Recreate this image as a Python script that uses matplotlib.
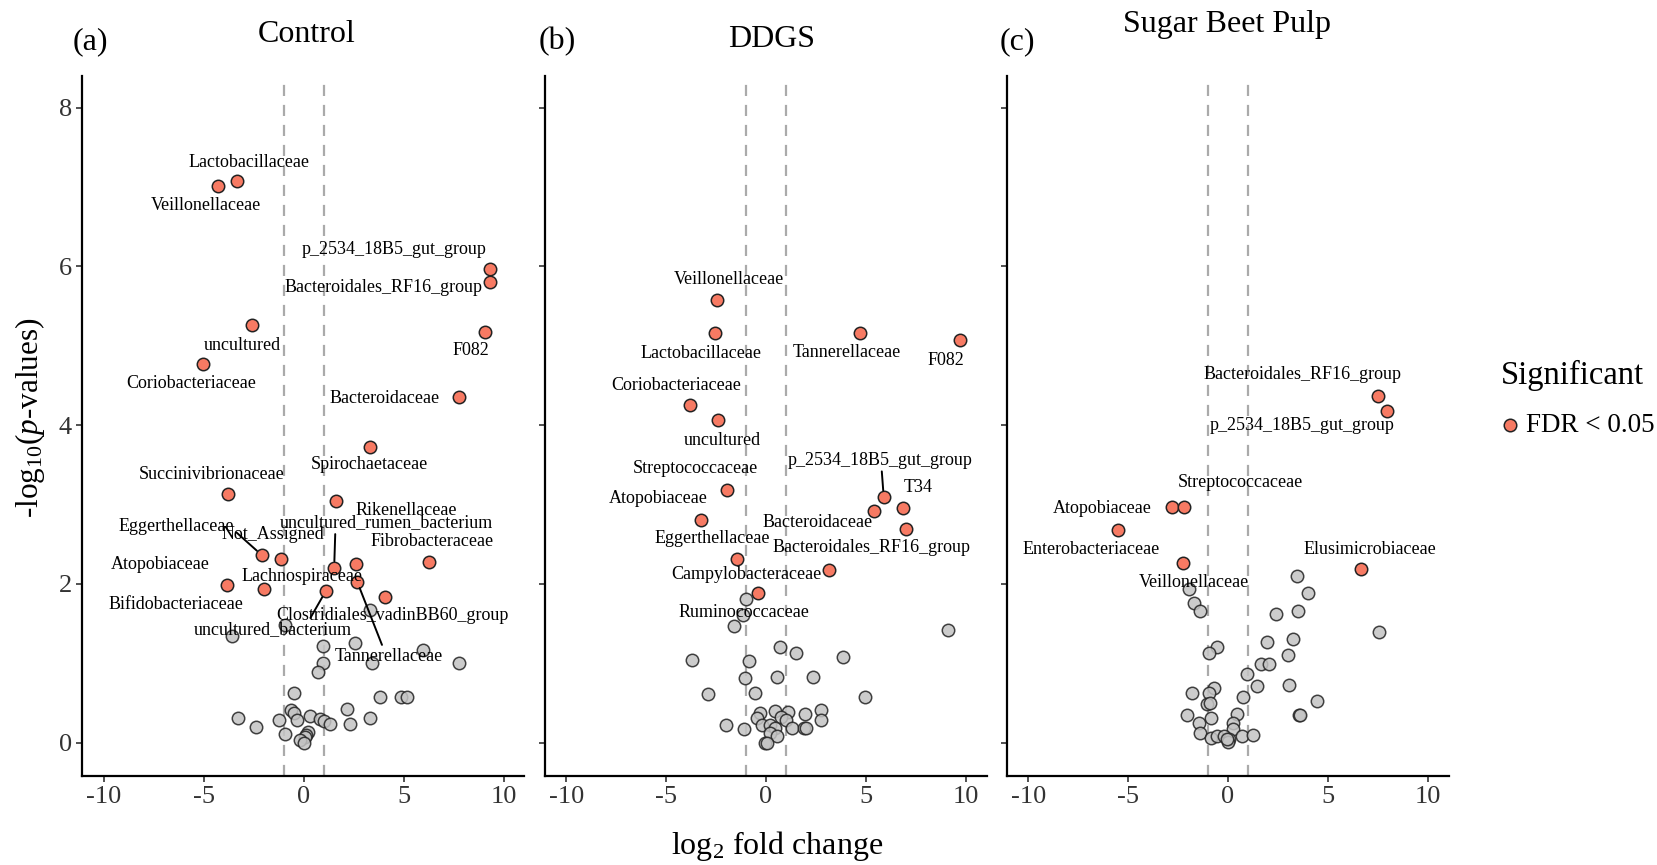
import matplotlib
matplotlib.use("Agg")
import matplotlib.pyplot as plt
from matplotlib.lines import Line2D

plt.rcParams['font.family'] = ['Liberation Serif', 'DejaVu Serif']
plt.rcParams['mathtext.fontset'] = 'custom'
plt.rcParams['mathtext.rm'] = 'Liberation Serif'
plt.rcParams['mathtext.it'] = 'Liberation Serif:italic'
plt.rcParams['axes.unicode_minus'] = False

panel_titles = ["Control", "DDGS", "Sugar Beet Pulp"]
panel_tags = ["(a)", "(b)", "(c)"]
x_ticks = [-10, -5, 0, 5, 10]
y_ticks = [0, 2, 4, 6, 8]

# Control: significant families (FDR < 0.05)
a_sig_names = ["Lactobacillaceae", "Veillonellaceae", "p_2534_18B5_gut_group",
               "Bacteroidales_RF16_group", "uncultured", "F082", "Coriobacteriaceae",
               "Bacteroidaceae", "Spirochaetaceae", "Succinivibrionaceae", "Rikenellaceae",
               "Eggerthellaceae", "Not_Assigned", "uncultured_rumen_bacterium",
               "Fibrobacteraceae", "Atopobiaceae", "Lachnospiraceae", "Bifidobacteriaceae",
               "Tannerellaceae", "uncultured_bacterium", "Clostridiales_vadinBB60_group"]
a_sig_x = [-3.35, -4.3, 9.3, 9.3, -2.57, 9.06, -5.03, 7.75, 3.3, -3.82, 1.62,
           -2.09, -1.15, 1.52, 6.28, -3.87, 2.62, -1.99, 2.67, 1.1, 4.08]
a_sig_y = [7.08, 7.02, 5.97, 5.81, 5.26, 5.18, 4.77, 4.36, 3.72, 3.13, 3.05,
           2.36, 2.32, 2.2, 2.28, 1.99, 2.25, 1.93, 2.03, 1.91, 1.83]
a_ns_x = [3.32, -0.95, -3.58, 0.95, 2.58, 5.95, 0.95, 0.7, 3.39, 7.75, -0.5, 3.84,
          4.87, 5.17, 2.15, -0.63, -0.47, -3.3, -1.22, -0.33, 0.32, 0.82, 1.03, 1.29,
          2.32, 3.32, -2.38, -0.92, 0.2, 0.12, 0.05, -0.2, 0.02]
a_ns_y = [1.67, 1.48, 1.34, 1.22, 1.25, 1.17, 1.0, 0.89, 1.0, 1.01, 0.63, 0.58,
          0.57, 0.57, 0.42, 0.41, 0.37, 0.31, 0.29, 0.28, 0.33, 0.30, 0.27, 0.24,
          0.23, 0.31, 0.2, 0.11, 0.14, 0.10, 0.07, 0.03, 0.0]

# DDGS
b_sig_names = ["Veillonellaceae", "Lactobacillaceae", "Tannerellaceae", "F082",
               "Coriobacteriaceae", "uncultured", "Streptococcaceae",
               "p_2534_18B5_gut_group", "T34", "Bacteroidaceae", "Atopobiaceae",
               "Bacteroidales_RF16_group", "Eggerthellaceae", "Campylobacteraceae",
               "Ruminococcaceae"]
b_sig_x = [-2.43, -2.55, 4.7, 9.7, -3.8, -2.38, -1.97, 5.9, 6.87, 5.42, -3.27,
           7.03, -1.47, 3.15, -0.42]
b_sig_y = [5.58, 5.16, 5.16, 5.07, 4.25, 4.06, 3.18, 3.09, 2.96, 2.92, 2.8,
           2.69, 2.31, 2.18, 1.89]
b_ns_x = [-1.02, -1.13, -1.58, 9.13, 0.73, 1.53, 3.87, -3.7, -0.85, -1.05, 0.57,
          2.37, -2.92, -0.55, 4.95, -0.3, 0.45, 1.12, 1.98, 2.75, 2.75, -0.47,
          -0.22, 0.23, 0.78, 1.0, 1.32, 1.9, 2.03, -2.02, -1.08, 0.45, 0.2, 0.58,
          -0.05, 0.07]
b_ns_y = [1.81, 1.61, 1.47, 1.42, 1.21, 1.13, 1.08, 1.04, 1.03, 0.82, 0.83,
          0.83, 0.61, 0.63, 0.58, 0.38, 0.4, 0.39, 0.36, 0.41, 0.29, 0.31,
          0.22, 0.22, 0.32, 0.29, 0.19, 0.18, 0.19, 0.22, 0.17, 0.18, 0.12, 0.08,
          0.0, 0.0]

# Sugar Beet Pulp
c_sig_names = ["Bacteroidales_RF16_group", "p_2534_18B5_gut_group", "Atopobiaceae",
               "Streptococcaceae", "Enterobacteriaceae", "Veillonellaceae",
               "Elusimicrobiaceae"]
c_sig_x = [7.53, 7.95, -2.8, -2.22, -5.5, -2.27, 6.67]
c_sig_y = [4.37, 4.18, 2.97, 2.97, 2.68, 2.27, 2.19]
c_ns_x = [3.48, -1.94, 4.03, -1.69, -1.42, 2.42, 3.5, 7.58, 1.95, 3.25, -0.55,
          -0.97, 3.0, 1.65, 2.08, 0.98, 1.48, 3.07, -0.72, -1.8, -0.93, 0.78,
          4.45, -1.05, -0.9, 3.58, 3.6, -2.05, -0.83, 0.48, -1.47, 0.28, 0.25,
          -1.42, -0.83, -0.55, -0.22, 0.08, 0.03, -0.03, 0.7, 1.25]
c_ns_y = [2.1, 1.94, 1.88, 1.76, 1.66, 1.62, 1.66, 1.39, 1.27, 1.3, 1.2, 1.13,
          1.1, 0.99, 0.99, 0.87, 0.72, 0.73, 0.69, 0.63, 0.62, 0.58, 0.52, 0.49,
          0.5, 0.35, 0.35, 0.35, 0.31, 0.36, 0.25, 0.25, 0.17, 0.12, 0.06, 0.09,
          0.08, 0.05, 0.01, 0.04, 0.08, 0.1]

# label placement (text centre in data units); connectors start at relpos on the label box
a_label_pos = [(-2.72, 7.31), (-4.92, 6.77), (4.5, 6.21), (3.98, 5.74), (-3.09, 5.01),
               (8.38, 4.94), (-5.65, 4.53), (4.03, 4.34), (3.3, 3.5), (-4.61, 3.38),
               (5.13, 2.93), (-6.39, 2.72), (-1.57, 2.62), (4.14, 2.77), (6.44, 2.54),
               (-7.17, 2.25), (-0.1, 2.09), (-6.39, 1.74), (4.24, 1.09), (-1.57, 1.43),
               (4.45, 1.6)]
a_link = {"Eggerthellaceae": (1.0, 0.3), "uncultured_rumen_bacterium": (0.26, 0.0),
          "Tannerellaceae": (0.45, 1.0), "uncultured_bacterium": (0.73, 1.0)}
b_label_pos = [(-1.83, 5.84), (-3.25, 4.9), (4.07, 4.91), (9.03, 4.82), (-4.47, 4.5),
               (-2.17, 3.81), (-3.55, 3.46), (5.7, 3.56), (7.62, 3.22), (2.57, 2.78),
               (-5.38, 3.08), (5.28, 2.46), (-2.67, 2.57), (-0.97, 2.12), (-1.08, 1.64)]
b_link = {"p_2534_18B5_gut_group": (0.51, 0.0)}
c_label_pos = [(3.73, 4.64), (3.73, 4.0), (-6.3, 2.95), (0.62, 3.28), (-6.84, 2.43),
               (-1.69, 2.02), (7.12, 2.43)]
c_link = {}

panels = [
    (a_sig_names, a_sig_x, a_sig_y, a_ns_x, a_ns_y, a_label_pos, a_link),
    (b_sig_names, b_sig_x, b_sig_y, b_ns_x, b_ns_y, b_label_pos, b_link),
    (c_sig_names, c_sig_x, c_sig_y, c_ns_x, c_ns_y, c_label_pos, c_link),
]

W, H = 1658, 865
fig = plt.figure(figsize=(W / 100, H / 100), dpi=100)

red = "#F77A63"
grey = "#C4C4C4"
ax_lefts = [82.5, 544.6, 1006.6]
ax_w, ax_top, ax_bot = 442, 76, 776
lab_fs = 13

for i, (names, sx, sy, nx, ny, lpos, links) in enumerate(panels):
    ax = fig.add_axes([ax_lefts[i] / W, 1 - ax_bot / H, ax_w / W, (ax_bot - ax_top) / H])
    ax.set_xlim(-11.08, 11.05)
    ax.set_ylim(-0.42, 8.4)
    ax.axvline(-1, color="#AAAAAA", ls=(0, (5, 4)), lw=1.6, zorder=1)
    ax.axvline(1, color="#AAAAAA", ls=(0, (5, 4)), lw=1.6, zorder=1)
    ax.scatter(nx, ny, s=80, c=grey, edgecolors="#222222", linewidths=1.1, alpha=0.85, zorder=2)
    ax.scatter(sx, sy, s=80, c=red, edgecolors="#222222", linewidths=1.1, zorder=3)
    for name, px, py, (tx, ty) in zip(names, sx, sy, lpos):
        if name in links:
            ax.annotate(name, xy=(px, py), xytext=(tx, ty), ha="center", va="center",
                        fontsize=lab_fs, zorder=4,
                        arrowprops=dict(arrowstyle="-", color="black", lw=1.4,
                                        shrinkA=0, shrinkB=5, relpos=links[name]))
        else:
            ax.text(tx, ty, name, ha="center", va="center", fontsize=lab_fs, zorder=4)
    for side in ["top", "right"]:
        ax.spines[side].set_visible(False)
    ax.spines["left"].set_linewidth(1.6)
    ax.spines["bottom"].set_linewidth(1.6)
    ax.set_xticks(x_ticks)
    ax.set_xticklabels([str(t) for t in x_ticks])
    ax.set_yticks(y_ticks)
    if i == 0:
        ax.set_yticklabels([str(t) for t in y_ticks])
    else:
        ax.set_yticklabels([])
    ax.tick_params(labelsize=19, length=4, width=1.2, color="#333333", labelcolor="#333333")

# panel titles and tags
fig.text(90 / W, 1 - 42 / H, panel_tags[0], fontsize=23, ha="center", va="center")
fig.text(307 / W, 1 - 42 / H, panel_titles[0], fontsize=23, ha="center", va="baseline")
fig.text(557 / W, 1 - 42 / H, panel_tags[1], fontsize=23, ha="center", va="center")
fig.text(772 / W, 1 - 47 / H, panel_titles[1], fontsize=23, ha="center", va="baseline")
fig.text(1017 / W, 1 - 42 / H, panel_tags[2], fontsize=23, ha="center", va="center")
fig.text(1227 / W, 1 - 32 / H, panel_titles[2], fontsize=23, ha="center", va="baseline")

fig.text(777 / W, 1 - 846 / H, r"log$_2$ fold change", fontsize=23, ha="center", va="center")
fig.text(30 / W, 1 - 418 / H, r"-log$_{10}$($\it{p}$-values)", fontsize=22.5,
         ha="center", va="center", rotation=90)

# legend
fig.text(1501 / W, 1 - 375 / H, "Significant", fontsize=23.5, ha="left", va="center")
leg_ax = fig.add_axes([0, 0, 1, 1], facecolor="none")
leg_ax.set_axis_off()
leg_ax.set_xlim(0, W)
leg_ax.set_ylim(H, 0)
leg_ax.add_line(Line2D([1510], [425], marker="o", markersize=9, markerfacecolor=red,
                       markeredgecolor="#222222", markeredgewidth=1.1, ls="none"))
fig.text(1526 / W, 1 - 425 / H, "FDR < 0.05", fontsize=19.5, ha="left", va="center")

fig.savefig("out.png", dpi=100)
